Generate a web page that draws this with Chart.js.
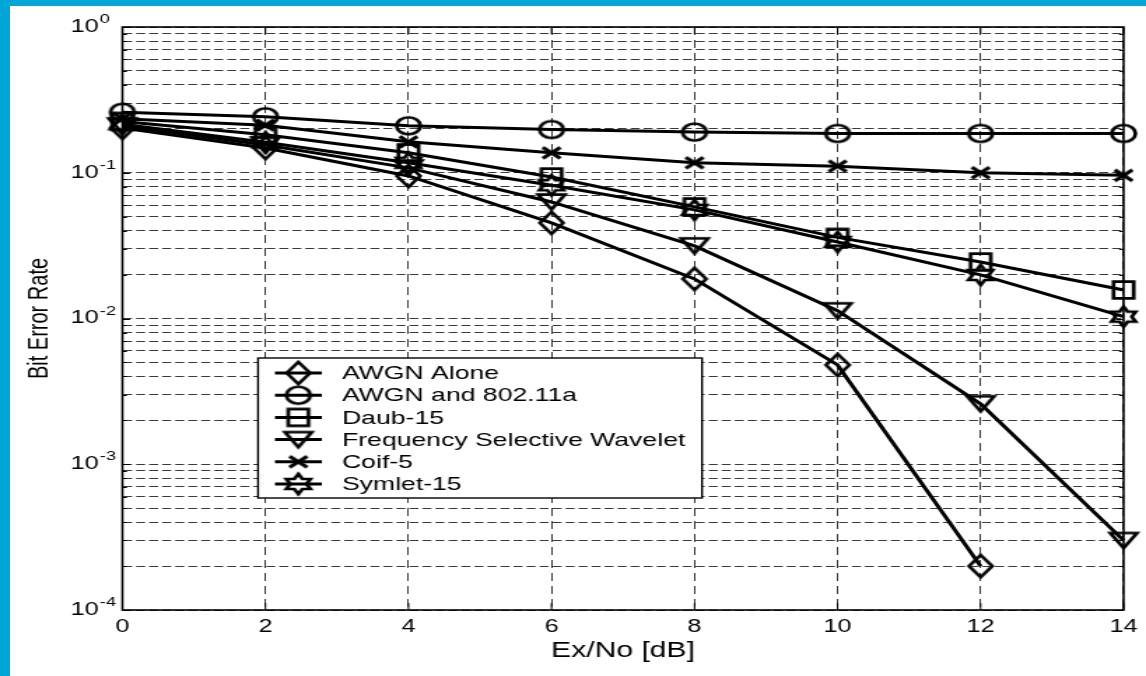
<!DOCTYPE html>
<html><head><meta charset="utf-8">
<script src="https://cdn.jsdelivr.net/npm/chart.js@4.4.1/dist/chart.umd.min.js"></script>
<style>
html,body{margin:0;padding:0;}
body{width:1146px;height:676px;background:#00a6d6;position:relative;overflow:hidden;}
#paper{position:absolute;left:10px;top:6px;width:1136px;height:670px;background:#fff;}
#wrap{position:absolute;left:0;top:0;width:819px;height:676px;transform:scaleX(1.39927);transform-origin:0 0;}
</style></head><body>
<div id="paper"></div>
<div id="wrap"><canvas id="c"></canvas></div>
<script>
// ---- data ----
const xValues = [0, 2, 4, 6, 8, 10, 12, 14];
const awgnAlone   = [0.203, 0.148, 0.095, 0.0453, 0.0187, 0.0048, 0.0002, null];
const awgn80211a  = [0.26, 0.242, 0.21, 0.198, 0.19, 0.186, 0.186, 0.186];
const daub15      = [0.225, 0.182, 0.137, 0.0935, 0.0583, 0.036, 0.0244, 0.0157];
const freqSelWav  = [0.21, 0.155, 0.108, 0.063, 0.0315, 0.0113, 0.0026, 0.0003];
const coif5       = [0.235, 0.212, 0.163, 0.137, 0.117, 0.111, 0.1, 0.096];
const symlet15    = [0.215, 0.162, 0.117, 0.082, 0.0556, 0.0335, 0.0199, 0.0103];
const seriesLabels = ['AWGN Alone', 'AWGN and 802.11a', 'Daub-15', 'Frequency Selective Wavelet', 'Coif-5', 'Symlet-15'];
const xTickValues = [0, 2, 4, 6, 8, 10, 12, 14];
const yDecades = [-4, -3, -2, -1, 0];
const yMantissas = [1, 2, 3, 4, 5, 6, 7, 8, 9];

const FONT = '"Liberation Sans", Arial, Helvetica, sans-serif';

// grid values for log axis (1..9 x 10^n)
const yGridValues = [];
yDecades.forEach(e => {
  if (e === 0) { yGridValues.push(1); return; }
  yMantissas.forEach(m => yGridValues.push(+(m * Math.pow(10, e)).toPrecision(3)));
});

// ---- marker images ----
function makeMarker(kind) {
  const c = document.createElement('canvas');
  c.width = 32; c.height = 32;
  const g = c.getContext('2d');
  g.strokeStyle = '#000'; g.lineWidth = 2.7; g.lineJoin = 'miter';
  const cx = 16, cy = 16;
  g.beginPath();
  if (kind === 'diamond') {
    g.moveTo(cx, cy - 11); g.lineTo(cx + 8.3, cy); g.lineTo(cx, cy + 11); g.lineTo(cx - 8.3, cy); g.closePath();
  } else if (kind === 'circle') {
    g.arc(cx, cy, 8.5, 0, Math.PI * 2);
  } else if (kind === 'square') {
    g.rect(cx - 7.2, cy - 8.3, 14.4, 16.6);
  } else if (kind === 'tridown') {
    g.moveTo(cx - 9.6, cy - 7.5); g.lineTo(cx + 9.6, cy - 7.5); g.lineTo(cx, cy + 7.5); g.closePath();
  } else if (kind === 'cross') {
    g.moveTo(cx - 6.3, cy - 5.5); g.lineTo(cx + 6.3, cy + 5.5);
    g.moveTo(cx + 6.3, cy - 5.5); g.lineTo(cx - 6.3, cy + 5.5);
    g.lineWidth = 3.1;
  } else if (kind === 'hexagram') {
    const R = 10, r = R / Math.sqrt(3);
    for (let k = 0; k < 12; k++) {
      const ang = -Math.PI / 2 + k * Math.PI / 6;
      const rad = k % 2 === 0 ? R : r;
      const px = cx + rad * Math.cos(ang), py = cy + rad * Math.sin(ang);
      if (k === 0) g.moveTo(px, py); else g.lineTo(px, py);
    }
    g.closePath();
  }
  g.stroke();
  return c;
}
const markerKinds = ['diamond', 'circle', 'square', 'tridown', 'cross', 'hexagram'];
const markers = markerKinds.map(makeMarker);
const seriesValues = [awgnAlone, awgn80211a, daub15, freqSelWav, coif5, symlet15];

const datasets = seriesValues.map((vals, i) => ({
  label: seriesLabels[i],
  data: xValues.map((x, j) => ({x: x, y: vals[j]})),
  borderColor: '#000',
  backgroundColor: 'rgba(0,0,0,0)',
  borderWidth: 3,
  tension: 0,
  pointStyle: markers[i],
  pointRadius: 10,
  pointHoverRadius: 10,
  spanGaps: false,
  clip: false
}));

// ---- plugins ----
const framePlugin = {
  id: 'frame',
  afterDatasetsDraw(chart) {
    const ctx = chart.ctx;
    // legend
    const L = {left: 184.4, right: 501.7, top: 358, bottom: 498};
    ctx.save();
    ctx.fillStyle = '#fff';
    ctx.fillRect(L.left, L.top, L.right - L.left, L.bottom - L.top);
    ctx.strokeStyle = '#000'; ctx.lineWidth = 1.4;
    ctx.strokeRect(L.left, L.top, L.right - L.left, L.bottom - L.top);
    ctx.font = '19px ' + FONT;
    ctx.textBaseline = 'middle'; ctx.textAlign = 'left'; ctx.fillStyle = '#000';
    chart.data.datasets.forEach((ds, i) => {
      const y = L.top + 15 + i * 22.2;
      ctx.beginPath(); ctx.lineWidth = 3; ctx.moveTo(196.5, y); ctx.lineTo(230, y); ctx.stroke();
      const m = ds.pointStyle;
      ctx.drawImage(m, 213.2 - m.width / 2, y - m.height / 2);
      ctx.fillText(ds.label, 244.4, y + 1);
    });
    ctx.restore();
  },
  afterDraw(chart) {
    const ctx = chart.ctx;
    const a = chart.chartArea;
    const ys = chart.scales.y, xs = chart.scales.x;
    ctx.save();
    // inward tick marks
    ctx.strokeStyle = '#000'; ctx.lineWidth = 1;
    yGridValues.forEach(v => {
      const y = Math.round(ys.getPixelForValue(v)) + 0.5;
      const major = yDecades.some(e => Math.abs(Math.pow(10, e) - v) < 1e-12);
      const len = major ? 5.5 : 3.2;
      ctx.beginPath();
      ctx.moveTo(a.left, y); ctx.lineTo(a.left + len, y);
      ctx.moveTo(a.right, y); ctx.lineTo(a.right - len, y);
      ctx.stroke();
    });
    xTickValues.forEach(v => {
      const x = xs.getPixelForValue(v);
      ctx.beginPath();
      ctx.moveTo(x, a.top); ctx.lineTo(x, a.top + 7);
      ctx.moveTo(x, a.bottom); ctx.lineTo(x, a.bottom - 7);
      ctx.stroke();
    });
    // box
    ctx.lineWidth = 1.6;
    ctx.strokeRect(a.left, a.top, a.right - a.left, a.bottom - a.top);
    // y tick labels 10^n
    ctx.fillStyle = '#000';
    ctx.textAlign = 'left'; ctx.textBaseline = 'middle';
    yDecades.forEach(e => {
      const y = ys.getPixelForValue(Math.pow(10, e));
      ctx.font = '18px ' + FONT;
      ctx.fillText('10', 50.5, y);
      ctx.font = '13px ' + FONT;
      ctx.fillText(String(e), 71.3, y - 7.5);
    });
    ctx.restore();
  }
};

new Chart(document.getElementById('c'), {
  type: 'line',
  data: { datasets },
  options: {
    responsive: true,
    maintainAspectRatio: false,
    animation: false,
    events: [],
    devicePixelRatio: 1,
    layout: { padding: { left: 0, right: 10.4, top: 27, bottom: 0 } },
    plugins: { legend: { display: false }, tooltip: { enabled: false } },
    scales: {
      x: {
        type: 'linear', min: 0, max: 14,
        afterBuildTicks(s) { s.ticks = xTickValues.map(v => ({value: v})); },
        afterFit(s) { s.height = 66; },
        grid: { color: '#3a3a3a', lineWidth: 1, drawTicks: false },
        border: { display: false, dash: [8, 5] },
        ticks: { color: '#000', font: { family: FONT, size: 18 }, padding: 6, maxRotation: 0, autoSkip: false },
        title: { display: true, text: 'Ex/No [dB]', color: '#000', font: { family: FONT, size: 21.5 }, padding: { top: 0, bottom: 12 } }
      },
      y: {
        type: 'logarithmic', min: 1e-4, max: 1,
        afterBuildTicks(s) { s.ticks = yGridValues.map(v => ({value: v})); },
        afterFit(s) { s.width = 87.5; },
        grid: { color: '#3a3a3a', lineWidth: 1, drawTicks: false },
        border: { display: false, dash: [6.4, 2.9] },
        ticks: { display: false },
        title: { display: true, text: 'Bit Error Rate', color: '#000', font: { family: FONT, size: 20 }, padding: { top: 16.6, bottom: 0 } }
      }
    }
  },
  plugins: [framePlugin]
});
</script>
</body></html>
